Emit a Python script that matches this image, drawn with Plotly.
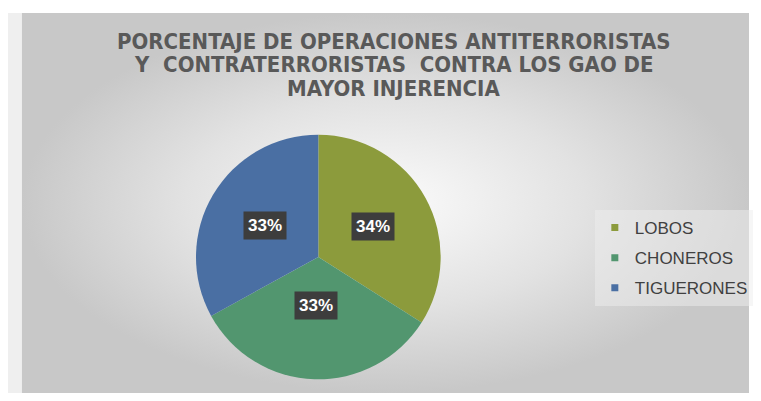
import math
import plotly.graph_objects as go

# ---- data ----
title_lines = [
    "PORCENTAJE DE OPERACIONES ANTITERRORISTAS",
    "Y  CONTRATERRORISTAS  CONTRA LOS GAO DE",
    "MAYOR INJERENCIA",
]
categories = ["LOBOS", "CHONEROS", "TIGUERONES"]
values = [34, 33, 33]
colors = ["#8c9b3c", "#52966f", "#4a6fa3"]

# page body has an 8px margin on every side; size figure so the page does not overflow
OFF = 8
W, H = 761 - 2 * OFF, 401 - 2 * OFF


def px(x):
    return (x - OFF) / W


def py(y):
    return 1 - (y - OFF) / H


dom_x = [px(197), px(443)]
dom_y = [py(380), py(134)]

fig = go.Figure()

# background gradient panel (chart area), in figure pixel units
fig.add_trace(go.Scatter(
    x=[22 - OFF, W, W, 22 - OFF, 22 - OFF],
    y=[13 - OFF, 13 - OFF, H, H, 13 - OFF],
    xaxis="x", yaxis="y", mode="lines", line=dict(width=0),
    fill="toself",
    fillgradient=dict(type="radial",
                      colorscale=[[0, "#fbfbfb"], [0.55, "#e2e2e2"], [1, "#c8c8c8"]]),
    hoverinfo="skip", showlegend=False,
))

fig.add_trace(go.Pie(
    labels=categories, values=values,
    marker=dict(colors=colors, line=dict(width=0)),
    sort=False, direction="clockwise", rotation=0,
    textinfo="none", hoverinfo="label+percent",
    domain=dict(x=dom_x, y=dom_y),
    showlegend=False,
))

# legend entries as separate groups to reproduce spacing
for c, col in zip(categories, colors):
    fig.add_trace(go.Scatter(
        x=[None], y=[None], mode="markers", name=c, legendgroup=c,
        marker=dict(symbol="square", size=7, color=col),
        xaxis="x", yaxis="y",
    ))

# data labels computed from values
total = sum(values)
cx = (dom_x[0] + dom_x[1]) / 2
cy = (dom_y[0] + dom_y[1]) / 2
R = (dom_x[1] - dom_x[0]) * W / 2
annotations = []
cum = 0
for v in values:
    mid = (cum + v / 2) / total * 2 * math.pi
    cum += v
    pct = round(v / total * 100)
    ax = cx + 0.51 * R * math.sin(mid) / W
    ay = cy + 0.51 * R * math.cos(mid) / H
    annotations.append(dict(
        x=ax, y=ay, xref="paper", yref="paper", showarrow=False,
        text=f"<b>{pct}%</b>",
        font=dict(family="Arial, Liberation Sans, sans-serif", size=17, color="white"),
        bgcolor="#3d3d3d", borderpad=4,
    ))

for line, yy in zip(title_lines, [41, 65, 89]):
    annotations.append(dict(
        x=px(396), y=py(yy), xref="paper", yref="paper", showarrow=False,
        text="<b>" + line + "</b>",
        font=dict(family="Liberation Sans Narrow, DejaVu Sans Condensed, Arial Narrow, sans-serif",
                  size=22, color="#595959"),
        align="center", xanchor="center", yanchor="middle",
    ))

shapes = [
    dict(type="rect", xref="paper", yref="paper", x0=0, x1=px(22),
         y0=0, y1=py(13), fillcolor="#efefef", line=dict(width=0), layer="below"),
]

fig.update_layout(
    width=W, height=H, autosize=False,
    margin=dict(l=0, r=0, t=0, b=0),
    paper_bgcolor="white", plot_bgcolor="rgba(0,0,0,0)",
    xaxis=dict(range=[0, W], domain=[0, 1], visible=False, fixedrange=True),
    yaxis=dict(range=[H, 0], domain=[0, 1], visible=False, fixedrange=True),
    showlegend=True,
    legend=dict(
        x=px(598), y=py(210), xanchor="left", yanchor="top",
        font=dict(family="Arial, Liberation Sans, sans-serif", size=17, color="#404040"),
        bgcolor="rgba(238,238,238,0.5)", tracegroupgap=5,
        itemwidth=30,
    ),
    annotations=annotations,
    shapes=shapes,
)

fig.write_html("out.html")
